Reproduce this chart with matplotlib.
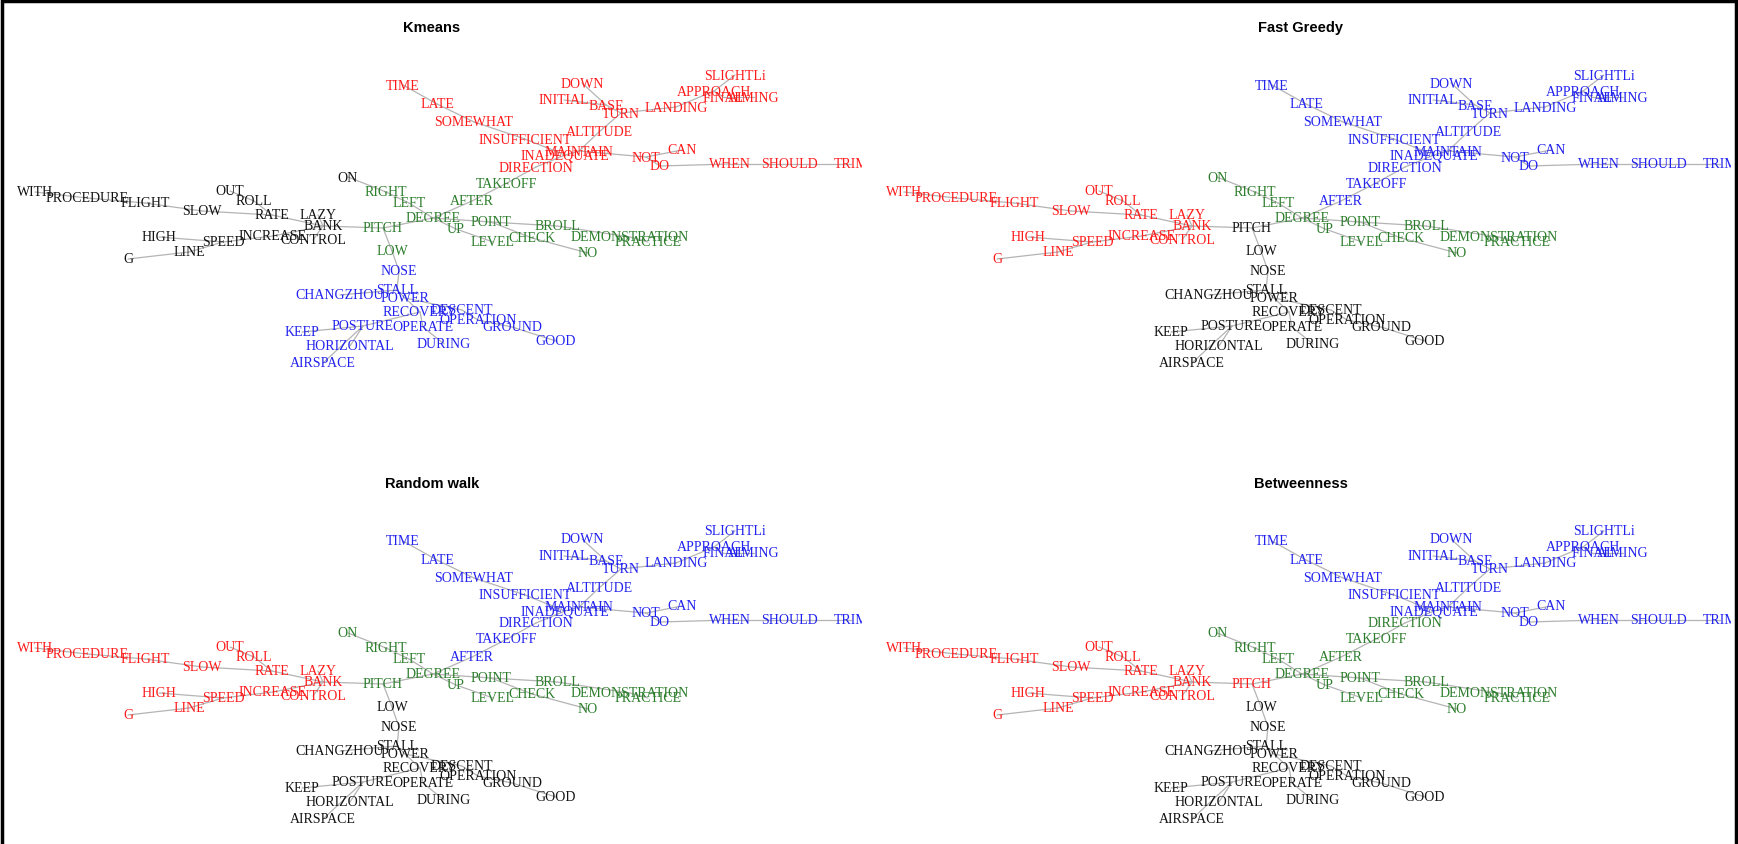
import matplotlib
matplotlib.use("Agg")
import matplotlib.pyplot as plt
from matplotlib.patches import Rectangle

W, H = 1738, 845

# Word nodes and their layout coordinates (same layout in every panel)
nodes = [
    "WITH", "PROCEDURE", "FLIGHT", "SLOW", "OUT", "ROLL", "RATE", "LAZY", "BANK",
    "PITCH", "HIGH", "SPEED", "INCREASE", "CONTROL", "LINE", "G", "ON", "RIGHT",
    "LEFT", "DEGREE", "LOW", "NOSE", "TAKEOFF", "AFTER", "UP", "POINT", "BROLL",
    "LEVEL", "CHECK", "DEMONSTRATION", "PRACTICE", "NO", "STALL", "CHANGZHOU",
    "POWER", "RECOVERY", "DESCENT", "OPERATION", "OPERATE", "GROUND", "GOOD",
    "KEEP", "POSTURE", "HORIZONTAL", "AIRSPACE", "DURING", "TIME", "LATE",
    "SOMEWHAT", "INSUFFICIENT", "ALTITUDE", "MAINTAIN", "INADEQUATE", "DIRECTION",
    "DOWN", "INITIAL", "BASE", "TURN", "LANDING", "SLIGHTLi", "APPROACH", "FINAL",
    "AIMING", "NOT", "CAN", "DO", "WHEN", "SHOULD", "TRIM",
]
layout_x = [
    35, 87, 145, 202, 230, 254, 272, 318, 323,
    383, 159, 223, 273, 313, 189, 128, 348, 386,
    409, 433, 392, 399, 507, 472, 456, 491, 557,
    493, 532, 630, 648, 588, 397, 340,
    405, 420, 462, 478, 423, 512, 556,
    302, 363, 350, 323, 444, 403, 437,
    474, 525, 599, 579, 565, 536,
    582, 564, 606, 621, 676, 735, 714, 723,
    754, 646, 682, 660, 730, 789, 851,
]
layout_y = [
    193, 199, 204, 212, 192, 202, 216, 216, 227,
    229, 238, 243, 237, 241, 253, 260, 178, 193,
    204, 219, 252, 272, 184, 202, 230, 223, 227,
    243, 239, 238, 243, 254, 291, 296,
    299, 313, 311, 321, 328, 328, 342,
    333, 327, 347, 364, 345, 86, 105,
    123, 140, 133, 152, 156, 168,
    84, 101, 106, 114, 108, 76, 92, 98,
    98, 158, 151, 167, 165, 165, 165,
]

edges = [
    ("WITH", "PROCEDURE"), ("PROCEDURE", "FLIGHT"), ("FLIGHT", "SLOW"),
    ("SLOW", "RATE"), ("OUT", "ROLL"), ("ROLL", "RATE"), ("RATE", "BANK"),
    ("LAZY", "BANK"), ("BANK", "PITCH"), ("HIGH", "SPEED"), ("SPEED", "INCREASE"),
    ("INCREASE", "BANK"), ("CONTROL", "BANK"), ("G", "LINE"), ("LINE", "SPEED"),
    ("ON", "RIGHT"), ("RIGHT", "LEFT"), ("LEFT", "DEGREE"), ("PITCH", "DEGREE"),
    ("PITCH", "LOW"), ("LOW", "NOSE"), ("DEGREE", "AFTER"), ("AFTER", "TAKEOFF"),
    ("TAKEOFF", "DIRECTION"), ("DEGREE", "POINT"), ("DEGREE", "UP"),
    ("UP", "LEVEL"), ("POINT", "BROLL"), ("POINT", "CHECK"), ("CHECK", "NO"),
    ("BROLL", "DEMONSTRATION"), ("DEMONSTRATION", "PRACTICE"),
    ("TIME", "LATE"), ("LATE", "SOMEWHAT"), ("SOMEWHAT", "INSUFFICIENT"),
    ("INSUFFICIENT", "INADEQUATE"), ("DOWN", "BASE"), ("INITIAL", "BASE"),
    ("BASE", "TURN"), ("TURN", "LANDING"), ("LANDING", "APPROACH"),
    ("APPROACH", "SLIGHTLi"), ("APPROACH", "FINAL"), ("FINAL", "AIMING"),
    ("TURN", "ALTITUDE"), ("ALTITUDE", "MAINTAIN"), ("MAINTAIN", "INADEQUATE"),
    ("MAINTAIN", "NOT"), ("NOT", "CAN"), ("NOT", "DO"), ("DO", "WHEN"),
    ("WHEN", "SHOULD"), ("SHOULD", "TRIM"), ("INADEQUATE", "DIRECTION"),
    ("NOSE", "STALL"), ("STALL", "POWER"), ("CHANGZHOU", "STALL"),
    ("POWER", "RECOVERY"), ("POWER", "DESCENT"), ("DESCENT", "OPERATION"),
    ("OPERATION", "GROUND"), ("GROUND", "GOOD"), ("RECOVERY", "POSTURE"),
    ("KEEP", "POSTURE"), ("POSTURE", "HORIZONTAL"), ("POSTURE", "AIRSPACE"),
    ("RECOVERY", "OPERATE"), ("OPERATE", "DURING"),
]

# Word groups used to describe the community memberships
approach_words = ["TIME", "LATE", "SOMEWHAT", "INSUFFICIENT", "ALTITUDE", "MAINTAIN",
                  "INADEQUATE", "DOWN", "INITIAL", "BASE", "TURN", "LANDING",
                  "SLIGHTLi", "APPROACH", "FINAL", "AIMING", "NOT", "CAN", "DO",
                  "WHEN", "SHOULD", "TRIM"]
attitude_words = ["RIGHT", "LEFT", "DEGREE", "UP", "POINT", "BROLL", "LEVEL",
                  "CHECK", "DEMONSTRATION", "PRACTICE", "NO"]
roll_words = ["WITH", "PROCEDURE", "FLIGHT", "SLOW", "OUT", "ROLL", "RATE", "LAZY",
              "BANK", "INCREASE", "CONTROL", "HIGH", "SPEED", "LINE", "G"]
stall_words = ["NOSE", "STALL", "POWER", "CHANGZHOU", "RECOVERY", "DESCENT",
               "OPERATION", "OPERATE", "GROUND", "GOOD", "KEEP", "POSTURE",
               "HORIZONTAL", "AIRSPACE", "DURING"]

# Community colour per word, for each detection method
kmeans = {}
kmeans.update({w: "red" for w in approach_words + ["DIRECTION"]})
kmeans.update({w: "green" for w in attitude_words + ["TAKEOFF", "AFTER", "PITCH", "LOW"]})
kmeans.update({w: "black" for w in roll_words + ["ON"]})
kmeans.update({w: "blue" for w in stall_words})

fast_greedy = {}
fast_greedy.update({w: "blue" for w in approach_words + ["DIRECTION", "TAKEOFF", "AFTER"]})
fast_greedy.update({w: "green" for w in attitude_words + ["ON"]})
fast_greedy.update({w: "red" for w in roll_words})
fast_greedy.update({w: "black" for w in stall_words + ["PITCH", "LOW"]})

random_walk = {}
random_walk.update({w: "blue" for w in approach_words + ["DIRECTION", "TAKEOFF", "AFTER"]})
random_walk.update({w: "green" for w in attitude_words + ["ON", "PITCH"]})
random_walk.update({w: "red" for w in roll_words})
random_walk.update({w: "black" for w in stall_words + ["LOW"]})

betweenness = {}
betweenness.update({w: "blue" for w in approach_words})
betweenness.update({w: "green" for w in attitude_words + ["ON", "DIRECTION", "TAKEOFF", "AFTER"]})
betweenness.update({w: "red" for w in roll_words + ["PITCH"]})
betweenness.update({w: "black" for w in stall_words + ["LOW"]})

titles = ["Kmeans", "Fast Greedy", "Random walk", "Betweenness"]
memberships = [kmeans, fast_greedy, random_walk, betweenness]

palette = {"red": "#ff1a1a", "green": "#2b7d2b", "black": "#111111", "blue": "#2222ee"}

pos = {n: (x, y) for n, x, y in zip(nodes, layout_x, layout_y)}

fig = plt.figure(figsize=(W / 100, H / 100), dpi=100)
fig.patch.set_facecolor("white")

panel_w, panel_h = 862, 456
step_x, step_y = 869, 456
for i, (title, member) in enumerate(zip(titles, memberships)):
    col, row = i % 2, i // 2
    left = col * step_x
    top = row * step_y
    ax = fig.add_axes([left / W, (H - top - panel_h) / H, panel_w / W, panel_h / H])
    ax.set_xlim(0, panel_w)
    ax.set_ylim(panel_h, 0)
    ax.axis("off")
    for a, b in edges:
        (x1, y1), (x2, y2) = pos[a], pos[b]
        ax.plot([x1, x2], [y1, y2], color="#b4b4b4", lw=0.9, zorder=1,
                solid_capstyle="round")
    for n in nodes:
        x, y = pos[n]
        ax.text(x, y, n, ha="center", va="center", fontsize=10,
                family=["Liberation Serif", "DejaVu Serif"],
                color=palette[member[n]], zorder=2, clip_on=True)
    ax.text(432, 28, title, ha="center", va="center", fontsize=10.5,
            fontweight="bold", family=["Liberation Sans Narrow", "Liberation Sans"],
            color="black")

# frame round the whole figure
fig.add_artist(Rectangle((2 / W, -0.05), (W - 4) / W, 1.05 - 2 / H,
                         transform=fig.transFigure, fill=False,
                         edgecolor="black", lw=2.5))

fig.savefig("out.png", dpi=100)
